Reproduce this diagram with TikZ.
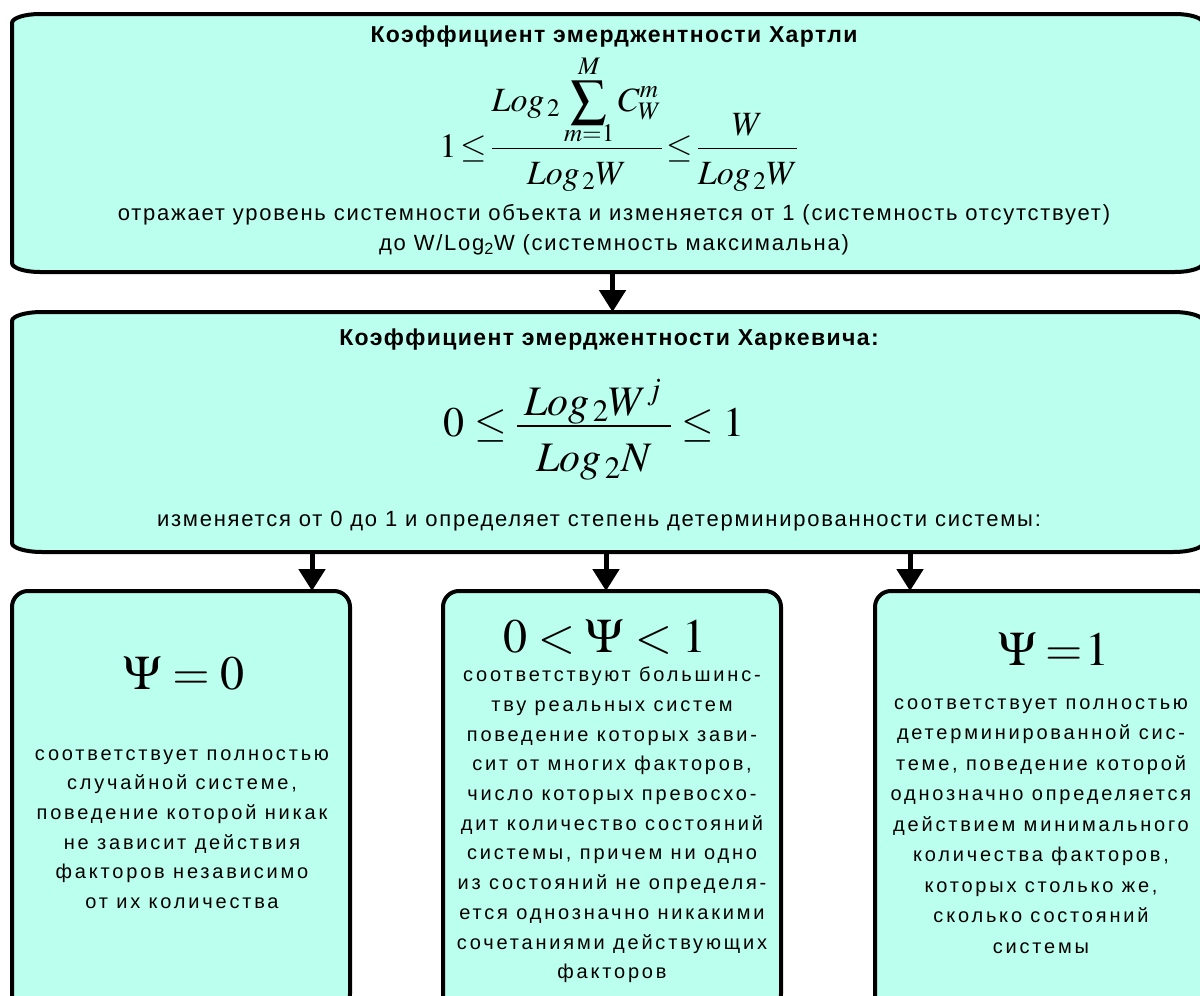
\documentclass[tikz,border=0pt]{standalone}
\usepackage{mathptmx}
\usepackage{graphicx}
\usepackage[no-math]{fontspec}
\setmainfont{Liberation Sans}
\newfontfamily\txtfont[LetterSpace=8]{Liberation Sans}
\newfontfamily\smfont[LetterSpace=14]{Liberation Sans}
\newfontfamily\ttlfont[LetterSpace=6]{Liberation Sans}
\usetikzlibrary{arrows.meta}
\definecolor{boxfill}{RGB}{187,255,238}
\tikzset{
  boxshape/.style={rectangle, draw=none, inner sep=0pt, outer sep=0pt},
  boxline/.style={draw=black, line width=4pt, fill=boxfill},
  arr/.style={line width=5pt, -{Triangle[length=22pt,width=26pt]}},
  ttl/.style={font=\ttlfont\bfseries\fontsize{23}{27}\selectfont, inner sep=0pt},
  desc/.style={font=\txtfont\fontsize{22}{30}\selectfont, inner sep=0pt, align=center},
  small/.style={font=\smfont\fontsize{20}{29.7}\selectfont, inner sep=0pt, align=center},
  frm/.style={inner sep=0pt}
}
\newcommand\ellbox[3]{%
  \draw[boxline] ([xshift=#2pt]#1.north west) -- ([xshift=-#2pt]#1.north east)
    arc[start angle=90,end angle=0,x radius=#2pt,y radius=#3pt]
    -- ([yshift=#3pt]#1.south east)
    arc[start angle=0,end angle=-90,x radius=#2pt,y radius=#3pt]
    -- ([xshift=#2pt]#1.south west)
    arc[start angle=270,end angle=180,x radius=#2pt,y radius=#3pt]
    -- ([yshift=-#3pt]#1.north west)
    arc[start angle=180,end angle=90,x radius=#2pt,y radius=#3pt] -- cycle;}
\newcommand\tle{\mathrel{\mskip-2mu\le\mskip-2mu}}
\newcommand\bigsum{\mathop{\vcenter{\hbox{\scalebox{1.05}{$\displaystyle\sum$}}}}\limits}
\begin{document}
\begin{tikzpicture}[x=1pt,y=1pt]
\useasboundingbox (0,0) rectangle (1200,-996);
\clip (0,0) rectangle (1200,-996);
% boxes
\node[boxshape, minimum width=1191pt, minimum height=258pt] (hartley) at (607.5,-143) {};
\node[boxshape, minimum width=1191pt, minimum height=240pt] (kharkevich) at (607.5,-432) {};
\node[boxshape, minimum width=338pt, minimum height=419pt] (psi0) at (181,-800.5) {};
\node[boxshape, minimum width=338pt, minimum height=419pt] (psimid) at (612,-800.5) {};
\node[boxshape, minimum width=338pt, minimum height=419pt] (psi1) at (1044,-800.5) {};
\ellbox{hartley}{28}{9}
\ellbox{kharkevich}{30}{9}
\ellbox{psi0}{16}{16}
\ellbox{psimid}{16}{16}
\ellbox{psi1}{16}{16}
% arrows
\draw[arr] ([xshift=5pt]hartley.south) -- ([xshift=5pt]kharkevich.north);
\coordinate (a1) at ([xshift=131pt]psi0.north);
\coordinate (a2) at ([xshift=-6pt]psimid.north);
\coordinate (a3) at ([xshift=-134pt]psi1.north);
\draw[arr] (kharkevich.south -| a1) -- (a1);
\draw[arr] (kharkevich.south -| a2) -- (a2);
\draw[arr] (kharkevich.south -| a3) -- (a3);
% top box texts
\node[ttl] (t1) at (614,-37) {Коэффициент эмерджентности Хартли};
\node[frm, anchor=base] (f1) at (619,-157) {\fontsize{34}{38}\selectfont
 $1\tle\textstyle\frac{\rule[-35pt]{0pt}{35pt}\smash{\displaystyle Log_{\,2}\bigsum_{\raisebox{4pt}[12pt][0pt]{$\scriptstyle m=1$}}^{M}C_W^m}}{\textstyle\rule{0pt}{34pt}Log_{\,2}W}\tle
 \textstyle\frac{\textstyle\rule[-11pt]{0pt}{11pt}W}{\textstyle\rule{0pt}{34pt}Log_{\,2}W}$};
\node[desc] (d1) at (614,-215) {отражает уровень системности объекта и изменяется от 1 (системность отсутствует)};
\node[desc] (d2) at (614,-245) {до W/Log\textsubscript{2}W (системность максимальна)};
% second box texts
\node[ttl] (t2) at (609,-340) {Коэффициент эмерджентности Харкевича:};
\node[frm] (f2) at (594,-430) {\fontsize{42}{48}\selectfont
 $0\le\frac{\textstyle\mskip3mu Log_{\,2}W^{j}\mskip4mu}{\textstyle\rule{0pt}{43pt}Log_{\,2}N}\le1$};
\node[desc] (d3) at (599,-521) {изменяется от 0 до 1 и определяет степень детерминированности системы:};
% bottom boxes
\node[frm] (p0) at (184,-673) {\fontsize{48}{50}\selectfont $\Psi=0$};
\node[small] (x0) at (182,-829) {соответствует полностью\\случайной системе,\\поведение которой никак\\не зависит действия\\факторов независимо\\от их количества};
\node[frm] (pm) at (605,-637) {\fontsize{48}{50}\selectfont $0<\Psi<1$};
\node[small] (xm) at (612,-825) {соответствуют большинс-\\тву реальных систем\\поведение которых зави-\\сит от многих факторов,\\число которых превосхо-\\дит количество состояний\\системы, причем ни одно\\из состояний не определя-\\ется однозначно никакими\\сочетаниями действующих\\факторов};
\node[frm] (p1) at (1054,-649) {\fontsize{48}{50}\selectfont $\Psi\mskip3mu{=}\mskip1mu1$};
\node[small, font=\smfont\fontsize{20}{30.5}\selectfont] (x1) at (1041,-826) {соответствует полностью\\детерминированной сис-\\теме, поведение которой\\однозначно определяется\\действием минимального\\количества факторов,\\которых столько же,\\сколько состояний\\системы};
\end{tikzpicture}
\end{document}
